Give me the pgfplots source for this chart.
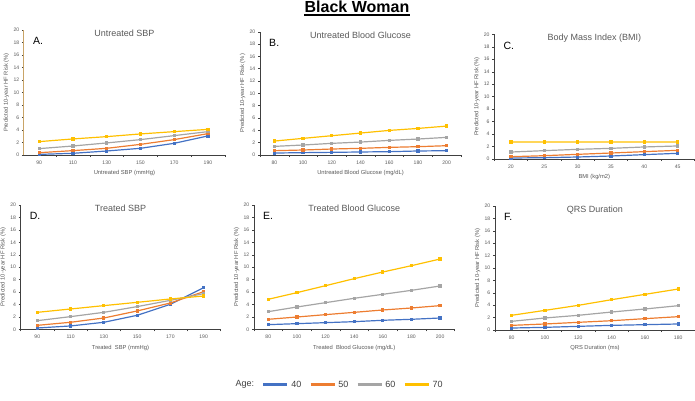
\documentclass[border=0pt]{standalone}
\usepackage{fontspec}
\setmainfont{Liberation Sans}
\usepackage{pgfplots}
\usepackage{pgfplotstable}
\pgfplotsset{compat=1.18}
\definecolor{c40}{HTML}{4472C4}
\definecolor{c50}{HTML}{ED7D31}
\definecolor{c60}{HTML}{A5A5A5}
\definecolor{c70}{HTML}{FFC000}
\definecolor{txt}{HTML}{595959}
\definecolor{axc}{HTML}{404040}
\definecolor{tanc}{HTML}{C9A467}

\pgfplotstableread{
x a40 a50 a60 a70
90 0.10 0.37 1.02 2.14
110 0.27 0.70 1.44 2.57
130 0.64 1.07 1.93 2.94
150 1.07 1.70 2.46 3.37
170 1.87 2.46 3.10 3.74
190 3.05 3.42 3.74 4.10
}\tabA
\pgfplotstableread{
x a40 a50 a60 a70
80 0.32 0.70 1.40 2.26
100 0.38 0.81 1.62 2.70
120 0.43 0.97 1.89 3.13
140 0.49 1.08 2.10 3.56
160 0.54 1.24 2.37 3.99
180 0.65 1.35 2.59 4.31
200 0.70 1.51 2.86 4.69
}\tabB
\pgfplotstableread{
x a40 a50 a60 a70
20 0.16 0.37 1.12 2.72
25 0.21 0.53 1.34 2.73
30 0.32 0.75 1.55 2.73
35 0.48 0.96 1.71 2.73
40 0.70 1.18 1.93 2.73
45 0.91 1.39 2.09 2.73
}\tabC
\pgfplotstableread{
x a40 a50 a60 a70
90 0.21 0.64 1.39 2.73
110 0.54 1.13 2.04 3.27
130 1.13 1.82 2.73 3.81
150 2.25 2.95 3.65 4.34
170 4.02 4.24 4.66 4.88
190 6.70 6.06 5.74 5.36
}\tabD
\pgfplotstableread{
x a40 a50 a60 a70
80 0.75 1.61 2.84 4.83
100 0.91 1.98 3.59 5.90
120 1.07 2.36 4.29 7.02
140 1.23 2.73 4.99 8.15
160 1.45 3.11 5.63 9.22
180 1.61 3.43 6.27 10.24
200 1.82 3.81 6.97 11.31
}\tabE
\pgfplotstableread{
x a40 a50 a60 a70
80 0.32 0.75 1.40 2.37
100 0.43 0.97 1.94 3.17
120 0.59 1.24 2.37 3.98
140 0.75 1.50 2.90 4.89
160 0.86 1.83 3.39 5.75
180 0.97 2.15 3.92 6.61
}\tabF

\pgfplotsset{
  panel/.style={
    scale only axis, anchor=south west,
    axis x line*=bottom, axis y line*=left,
    ymin=0, ymax=20, ytick={0,2,...,20}, minor ytick={0,2,...,20},
    tick align=outside, xtick pos=bottom, ytick pos=left,
    major tick length=0pt, minor tick length=2pt,
    x axis line style={axc, line width=0.6pt},
    y axis line style={axc, line width=0.6pt},
    tick style={axc, line width=0.4pt},
    /pgf/number format/assume math mode=true,
    tick label style={font=\fontsize{5.1}{6}\selectfont, text=txt},
    yticklabel style={xshift=-1.2pt},
    xticklabel style={yshift=-2.5pt},
    xlabel style={font=\fontsize{5.8}{6.5}\selectfont, text=txt, yshift=1pt},
    ylabel={Predicted 10-year HF Risk (\%)},
    every axis y label/.style={at={(rel axis cs:0,0.5)}, xshift=-17.5pt, rotate=90, anchor=center,
      font=\fontsize{5.8}{6.5}\selectfont, text=txt},
    title style={font=\fontsize{9}{10}\selectfont, text=txt, at={(0.5,1)}, anchor=north, yshift=-2.5pt},
    clip=false,
  },
  s40/.style={c40, line width=1.2pt, mark=square*, mark size=1pt},
  s50/.style={c50, line width=1.2pt, mark=square*, mark size=1pt},
  s60/.style={c60, line width=1.2pt, mark=square*, mark size=1pt},
  s70/.style={c70, line width=1.2pt, mark=square*, mark size=1pt},
}
\newcommand{\letter}[1]{\node[anchor=west, inner sep=0pt, font=\fontsize{10.5}{11}\selectfont, text=black] at (rel axis cs:0.045,0.91) {#1};}

\begin{document}
\begin{tikzpicture}
\useasboundingbox (0pt,0pt) rectangle (695pt,400pt);
\node[inner sep=0pt, anchor=base, font=\bfseries\fontsize{16}{18}\selectfont, text=black] (T) at (357pt,387pt) {Black Woman};
\draw[line width=1.1pt] ([yshift=-2pt]T.base west) -- ([yshift=-2pt]T.base east);

% A
\begin{axis}[panel, at={(24pt,245pt)}, width=200.8pt, height=125pt,
  xmin=81, xmax=200, xtick={90,110,...,190}, minor xtick={100,120,...,200},
  y axis line style={tanc, line width=1pt},
  xlabel={Untreated SBP (mmHg)}, title={Untreated SBP}]
\addplot[s40] table[x=x,y=a40]{\tabA};
\addplot[s50] table[x=x,y=a50]{\tabA};
\addplot[s60] table[x=x,y=a60]{\tabA};
\addplot[s70] table[x=x,y=a70]{\tabA};
\letter{A.}
\end{axis}

% B
\begin{axis}[panel, at={(260pt,245pt)}, width=201pt, height=123.3pt,
  xmin=70, xmax=210, xtick={80,100,...,200}, minor xtick={70,90,...,210},
  xlabel={Untreated Blood Glucose (mg/dL)}, title={Untreated Blood Glucose}]
\addplot[s40] table[x=x,y=a40]{\tabB};
\addplot[s50] table[x=x,y=a50]{\tabB};
\addplot[s60] table[x=x,y=a60]{\tabB};
\addplot[s70] table[x=x,y=a70]{\tabB};
\letter{B.}
\end{axis}

% C
\begin{axis}[panel, at={(494.3pt,241pt)}, width=200pt, height=124.7pt,
  xmin=17.5, xmax=47.5, xtick={20,25,...,45}, minor xtick={17.5,22.5,...,47.5},
  xlabel={BMI (kg/m2)}, title={Body Mass Index (BMI)}]
\addplot[s40] table[x=x,y=a40]{\tabC};
\addplot[s50] table[x=x,y=a50]{\tabC};
\addplot[s60] table[x=x,y=a60]{\tabC};
\addplot[s70] table[x=x,y=a70]{\tabC};
\letter{C.}
\end{axis}

% D
\begin{axis}[panel, at={(20.7pt,70.7pt)}, width=199.6pt, height=124.3pt,
  xmin=80, xmax=200, xtick={90,110,...,190}, minor xtick={80,100,...,200},
  xlabel={Treated\ \ SBP (mmHg)}, title={Treated SBP}]
\addplot[s40] table[x=x,y=a40]{\tabD};
\addplot[s50] table[x=x,y=a50]{\tabD};
\addplot[s60] table[x=x,y=a60]{\tabD};
\addplot[s70] table[x=x,y=a70]{\tabD};
\letter{D.}
\end{axis}

% E
\begin{axis}[panel, at={(254pt,70.7pt)}, width=200.4pt, height=124.3pt,
  xmin=70, xmax=210, xtick={80,100,...,200}, minor xtick={70,90,...,210},
  xlabel={Treated\ \ Blood Glucose (mg/dL)}, title={Treated Blood Glucose},
  legend columns=5,
  legend style={draw=none, fill=none, at={(-0.12,-0.445)}, anchor=west,
    font=\fontsize{9}{10}\selectfont, text=axc,
    /tikz/every even column/.append style={column sep=6pt},
    /tikz/every odd column/.append style={column sep=0.5pt},
    /tikz/column 2/.append style={column sep=0pt}},
  legend image code/.code={\draw[#1, line width=2.6pt] (0pt,0pt) -- (24pt,0pt);}]
\addlegendimage{empty legend}\addlegendentry{Age:}
\addlegendimage{c40}\addlegendentry{40}
\addlegendimage{c50}\addlegendentry{50}
\addlegendimage{c60}\addlegendentry{60}
\addlegendimage{c70}\addlegendentry{70}
\addplot[s40, forget plot] table[x=x,y=a40]{\tabE};
\addplot[s50, forget plot] table[x=x,y=a50]{\tabE};
\addplot[s60, forget plot] table[x=x,y=a60]{\tabE};
\addplot[s70, forget plot] table[x=x,y=a70]{\tabE};
\letter{E.}
\end{axis}

% F
\begin{axis}[panel, at={(495pt,70pt)}, width=199.9pt, height=124pt,
  xmin=70, xmax=190, xtick={80,100,...,180}, minor xtick={70,90,...,190},
  xlabel={QRS Duration (ms)}, title={QRS Duration}]
\addplot[s40] table[x=x,y=a40]{\tabF};
\addplot[s50] table[x=x,y=a50]{\tabF};
\addplot[s60] table[x=x,y=a60]{\tabF};
\addplot[s70] table[x=x,y=a70]{\tabF};
\letter{F.}
\end{axis}
\end{tikzpicture}
\end{document}
